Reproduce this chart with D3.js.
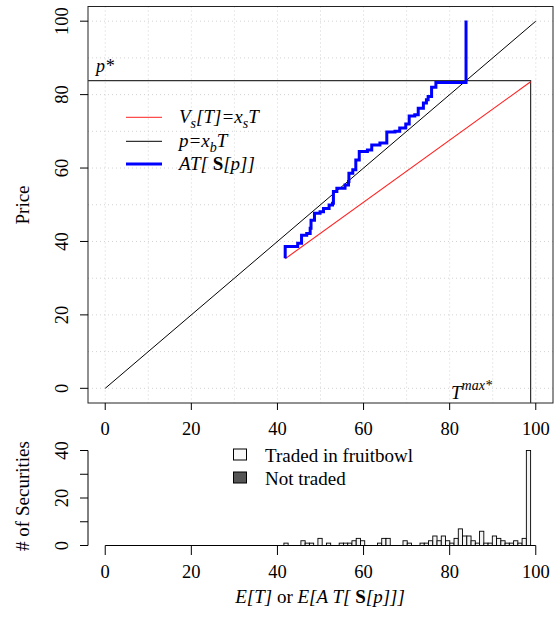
<!DOCTYPE html>
<html>
<head>
<meta charset="utf-8">
<script src="https://cdn.jsdelivr.net/npm/d3@7"></script>
<style>
  body { margin: 0; background: #fff; }
  svg text { font-family: "Liberation Serif", "Times New Roman", serif; }
</style>
</head>
<body>
<script>
const W = 555, H = 622;

// price curve AT[S[p]] (step corners, T then p)
const stepT = [41.8, 41.8, 44.7, 45.6, 46.8, 47.6, 47.8, 48.6, 49.9, 50.7, 52.0, 52.8, 53.0, 53.8, 55.7, 56.5, 56.6, 57.5, 58.2, 59.0, 60.9, 61.9, 63.8, 65.4, 67.3, 68.4, 69.8, 70.6, 71.9, 72.7, 73.9, 74.6, 75.0, 75.8, 76.8, 83.8, 83.8];
const stepP = [35.4, 38.6, 39.5, 41.7, 42.2, 43.6, 45.8, 47.7, 48.1, 49.0, 49.9, 50.4, 53.6, 54.5, 55.4, 56.3, 58.6, 59.5, 62.2, 64.5, 64.9, 66.3, 66.8, 69.8, 70.0, 70.9, 72.0, 74.2, 74.5, 76.3, 77.7, 78.6, 79.5, 82.0, 83.3, 83.3, 100.2];

// V_s[T] = x_s T  (end points)
const redT = [41.8, 98.8];
const redP = [35.3, 83.5];

// p = x_b T
const blackT = [0, 100];
const blackP = [0, 100];

const pStar = 83.8;
const tMax = 98.8;

// histogram: bins of width tMax/100 starting at 0
const nBins = 100;
const histBin = [42, 46, 47, 48, 50, 52, 55, 56, 57, 58, 59, 60, 64, 65, 66, 70, 71, 74, 75, 76, 77, 78, 79, 80, 81, 82, 83, 84, 85, 86, 87, 88, 89, 90, 91, 92, 93, 94, 95, 96, 97, 98, 99];
const histCount = [1, 2, 1, 1, 3, 1, 1, 1, 1, 2, 3, 2, 1, 3, 3, 2, 1, 1, 1, 2, 4, 2, 4, 2, 1, 3, 7, 4, 4, 2, 1, 6, 1, 1, 4, 3, 2, 1, 1, 2, 1, 3, 40];

const xTicks = [0, 20, 40, 60, 80, 100];
const yTicks = [0, 20, 40, 60, 80, 100];
const hTicks = [0, 10, 20, 30, 40];
const hLabels = [0, 20, 40];

const svg = d3.select("body").append("svg")
  .attr("width", W).attr("height", H)
  .attr("viewBox", [0, 0, W, H])
  .attr("font-family", "Liberation Serif, serif");

const x = d3.scaleLinear([-4, 104], [88, 553]);
const y = d3.scaleLinear([-4, 104], [403, 6.5]);
const yh = d3.scaleLinear([0, 40], [545.5, 450.5]);

// grid
const grid = svg.append("g").attr("stroke", "#d3d3d3").attr("stroke-dasharray", "1,3");
grid.selectAll("line.v").data(d3.range(0, 101, 10)).join("line")
  .attr("x1", d => x(d)).attr("x2", d => x(d)).attr("y1", 6.5).attr("y2", 403);
grid.selectAll("line.h").data(d3.range(0, 101, 10)).join("line")
  .attr("x1", 88).attr("x2", 553).attr("y1", d => y(d)).attr("y2", d => y(d));

// box
svg.append("rect").attr("x", 88).attr("y", 6.5).attr("width", 465).attr("height", 396.5)
  .attr("fill", "none").attr("stroke", "#222");

// p* and T^max* lines
svg.append("path")
  .attr("d", `M${x(-4)},${y(pStar)}H${x(tMax)}V${y(-4)}`)
  .attr("fill", "none").attr("stroke", "#333").attr("stroke-width", 1.2);

const line = d3.line().x(d => x(d[0])).y(d => y(d[1]));

svg.append("path").attr("d", line(d3.zip(blackT, blackP)))
  .attr("stroke", "#000").attr("fill", "none");
svg.append("path").attr("d", line(d3.zip(redT, redP)))
  .attr("stroke", "#ff2020").attr("stroke-width", 1.1).attr("fill", "none");
svg.append("path").attr("d", line.curve(d3.curveStepAfter)(d3.zip(stepT, stepP)))
  .attr("stroke", "#0000ff").attr("stroke-width", 3).attr("fill", "none");

// top axes
const axTop = svg.append("g").attr("font-size", 18.5);
axTop.selectAll("line.xt").data(xTicks).join("line")
  .attr("x1", d => x(d)).attr("x2", d => x(d)).attr("y1", 403).attr("y2", 410).attr("stroke", "#000");
axTop.selectAll("text.xt").data(xTicks).join("text")
  .attr("x", d => x(d)).attr("y", 435).attr("text-anchor", "middle").text(d => d);
axTop.selectAll("line.yt").data(yTicks).join("line")
  .attr("x1", 80).attr("x2", 88).attr("y1", d => y(d)).attr("y2", d => y(d)).attr("stroke", "#000");
axTop.selectAll("text.yt").data(yTicks).join("text")
  .attr("transform", d => `translate(68,${y(d)}) rotate(-90)`)
  .attr("text-anchor", "middle").text(d => d);
svg.append("text").attr("transform", `translate(29,205) rotate(-90)`)
  .attr("text-anchor", "middle").attr("font-size", 19).text("Price");

// labels p* and T^max*
svg.append("text").attr("x", 96).attr("y", 72).attr("font-size", 18).attr("font-style", "italic").text("p*");
const tm = svg.append("text").attr("x", 451).attr("y", 399).attr("font-size", 19).attr("font-style", "italic");
tm.append("tspan").text("T");
tm.append("tspan").attr("dy", -9).attr("font-size", 14).text("max*");

// main legend
const lg = svg.append("g").attr("font-size", 19).attr("font-style", "italic");
const lgY = [117.3, 141.3, 164];
const lgCol = ["#ff2020", "#000", "#0000ff"];
const lgW = [1, 1, 3];
lg.selectAll("line").data(lgY).join("line")
  .attr("x1", 126).attr("x2", 162).attr("y1", d => d).attr("y2", d => d)
  .attr("stroke", (d, i) => lgCol[i]).attr("stroke-width", (d, i) => lgW[i]);
const t1 = lg.append("text").attr("x", 179).attr("y", lgY[0] + 6);
t1.append("tspan").text("V");
t1.append("tspan").attr("dy", 5).attr("font-size", 14).text("s");
t1.append("tspan").attr("dy", -5).text("[T]=x");
t1.append("tspan").attr("dy", 5).attr("font-size", 14).text("s");
t1.append("tspan").attr("dy", -5).text("T");
const t2 = lg.append("text").attr("x", 179).attr("y", lgY[1] + 6);
t2.append("tspan").text("p=x");
t2.append("tspan").attr("dy", 5).attr("font-size", 14).text("b");
t2.append("tspan").attr("dy", -5).text("T");
const t3 = lg.append("text").attr("x", 179).attr("y", lgY[2] + 6);
t3.append("tspan").text("AT[ ");
t3.append("tspan").attr("font-style", "normal").attr("font-weight", "bold").text("S");
t3.append("tspan").text("[p]]");

// histogram
const bw = tMax / nBins;
svg.append("g").selectAll("rect").data(d3.zip(histBin, histCount)).join("rect")
  .attr("x", d => x(d[0] * bw)).attr("width", x(bw) - x(0))
  .attr("y", d => yh(d[1])).attr("height", d => yh(0) - yh(d[1]))
  .attr("fill", "#f4f4f4").attr("stroke", "#000").attr("stroke-width", 0.9);
svg.append("line").attr("x1", x(0)).attr("x2", x(100)).attr("y1", yh(0)).attr("y2", yh(0)).attr("stroke", "#000");

const axH = svg.append("g").attr("font-size", 18.5);
axH.selectAll("line.xt").data(xTicks).join("line")
  .attr("x1", d => x(d)).attr("x2", d => x(d)).attr("y1", yh(0)).attr("y2", 555).attr("stroke", "#000");
axH.selectAll("text.xt").data(xTicks).join("text")
  .attr("x", d => x(d)).attr("y", 578).attr("text-anchor", "middle").text(d => d);
axH.append("line").attr("x1", 88).attr("x2", 88).attr("y1", yh(40)).attr("y2", yh(0)).attr("stroke", "#000");
axH.selectAll("line.yt").data(hTicks).join("line")
  .attr("x1", 80).attr("x2", 88).attr("y1", d => yh(d)).attr("y2", d => yh(d)).attr("stroke", "#000");
axH.selectAll("text.yt").data(hLabels).join("text")
  .attr("transform", d => `translate(68,${yh(d)}) rotate(-90)`)
  .attr("text-anchor", "middle").text(d => d);
svg.append("text").attr("transform", `translate(29,496) rotate(-90)`)
  .attr("text-anchor", "middle").attr("font-size", 19).text("# of Securities");

// hist legend
const hl = svg.append("g").attr("font-size", 19);
const hlY = [454.5, 477.5];
const hlFill = ["#f8f8f8", "#555"];
const hlText = ["Traded in fruitbowl", "Not traded"];
hl.selectAll("rect").data(hlY).join("rect")
  .attr("x", 233.5).attr("y", d => d - 5.5).attr("width", 13).attr("height", 11)
  .attr("fill", (d, i) => hlFill[i]).attr("stroke", "#000");
hl.selectAll("text").data(hlY).join("text")
  .attr("x", 265).attr("y", d => d + 7).text((d, i) => hlText[i]);

// x title
const xt = svg.append("text").attr("x", 320).attr("y", 603).attr("text-anchor", "middle").attr("font-size", 19);
xt.append("tspan").attr("font-style", "italic").text("E[T]");
xt.append("tspan").text(" or ");
xt.append("tspan").attr("font-style", "italic").text("E[A T[ ");
xt.append("tspan").attr("font-weight", "bold").text("S");
xt.append("tspan").attr("font-style", "italic").text("[p]]]");
</script>
</body>
</html>
